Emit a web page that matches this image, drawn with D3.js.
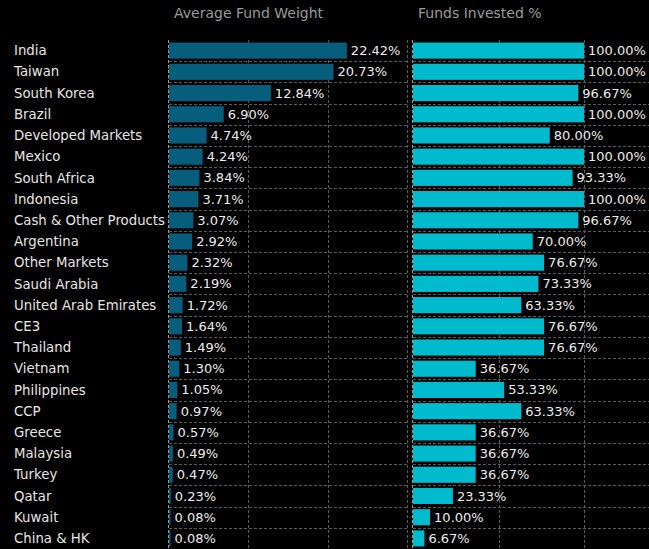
<!DOCTYPE html>
<html>
<head>
<meta charset="utf-8">
<script src="https://cdn.jsdelivr.net/npm/d3@7"></script>
<style>
  html, body { margin: 0; padding: 0; background: #000; }
  svg { display: block; }
</style>
</head>
<body>
<div id="chart"></div>
<script>
// Data
var countries = ["India", "Taiwan", "South Korea", "Brazil", "Developed Markets", "Mexico",
    "South Africa", "Indonesia", "Cash & Other Products", "Argentina", "Other Markets",
    "Saudi Arabia", "United Arab Emirates", "CE3", "Thailand", "Vietnam", "Philippines",
    "CCP", "Greece", "Malaysia", "Turkey", "Qatar", "Kuwait", "China & HK"];
var avgWeight = [22.42, 20.73, 12.84, 6.90, 4.74, 4.24, 3.84, 3.71, 3.07, 2.92, 2.32,
    2.19, 1.72, 1.64, 1.49, 1.30, 1.05, 0.97, 0.57, 0.49, 0.47, 0.23, 0.08, 0.08];
var fundsInvested = [100.00, 100.00, 96.67, 100.00, 80.00, 100.00, 93.33, 100.00, 96.67,
    70.00, 76.67, 73.33, 63.33, 76.67, 76.67, 36.67, 53.33, 63.33, 36.67, 36.67, 36.67,
    23.33, 10.00, 6.67];
var weightTicks = [10, 20, 30];
var investedTicks = [50, 100];

var width = 649, height = 549;
var plotTop = 40, plotBottom = 549;

var svg = d3.select("#chart")
    .append("svg")
    .attr("width", width)
    .attr("height", height)
    .style("background", "#000")
    .attr("font-family", "'DejaVu Sans', sans-serif");

var y = d3.scaleBand()
    .domain(countries)
    .range([plotTop, plotBottom])
    .paddingInner(0.24)
    .paddingOuter(0.12);

// left and right panels share the row scale
var panels = [
    {title: "Average Fund Weight", values: avgWeight, ticks: weightTicks,
        x: d3.scaleLinear().domain([0, 30]).range([169, 407]), color: "#075e7c"},
    {title: "Funds Invested %", values: fundsInvested, ticks: investedTicks,
        x: d3.scaleLinear().domain([0, 138]).range([413, 649]), color: "#00bacd"}
];

// Category labels
svg.append("g")
    .selectAll("text")
    .data(countries)
    .join("text")
    .attr("x", 14)
    .attr("y", d => y(d) + y.bandwidth() / 2)
    .attr("dy", "0.35em")
    .attr("font-size", 13.3)
    .attr("fill", "#e6e6e6")
    .text(d => d);

panels.forEach(function (p) {
    var g = svg.append("g");
    var x0 = p.x.range()[0], x1 = p.x.range()[1];

    // title
    g.append("text")
        .attr("x", x0 + 5)
        .attr("y", 18)
        .attr("font-size", 14)
        .attr("fill", "#9b9b9b")
        .text(p.title);

    // horizontal gridlines between rows
    var step = y.step();
    g.selectAll(".hgrid")
        .data(countries.slice(1))
        .join("line")
        .attr("class", "hgrid")
        .attr("x1", x0)
        .attr("x2", x1)
        .attr("y1", d => Math.round(y(d) - step * y.paddingInner() / 2) + 0.5)
        .attr("y2", d => Math.round(y(d) - step * y.paddingInner() / 2) + 0.5)
        .attr("stroke", "#5a5a5a")
        .attr("stroke-dasharray", "3,2");

    // vertical gridlines
    g.selectAll(".vgrid")
        .data(p.ticks)
        .join("line")
        .attr("class", "vgrid")
        .attr("x1", d => Math.round(p.x(d)) + 0.5)
        .attr("x2", d => Math.round(p.x(d)) + 0.5)
        .attr("y1", plotTop)
        .attr("y2", height)
        .attr("stroke", "#5a5a5a")
        .attr("stroke-dasharray", "3,2");

    // bars
    g.selectAll(".bar")
        .data(p.values)
        .join("rect")
        .attr("class", "bar")
        .attr("x", x0)
        .attr("y", (d, i) => y(countries[i]))
        .attr("width", d => Math.max(1.5, p.x(d) - x0))
        .attr("height", y.bandwidth())
        .attr("fill", p.color);

    // zero axis
    g.append("line")
        .attr("x1", x0 - 0.5)
        .attr("x2", x0 - 0.5)
        .attr("y1", plotTop)
        .attr("y2", height)
        .attr("stroke", "#9a9a9a")
        .attr("stroke-dasharray", "3,2");

    // value labels
    g.selectAll(".val")
        .data(p.values)
        .join("text")
        .attr("class", "val")
        .attr("x", d => Math.max(x0 + 1.5, p.x(d)) + 4)
        .attr("y", (d, i) => y(countries[i]) + y.bandwidth() / 2)
        .attr("dy", "0.35em")
        .attr("font-size", 13)
        .attr("fill", "#ececec")
        .text(d => d.toFixed(2) + "%");
});
</script>
</body>
</html>
